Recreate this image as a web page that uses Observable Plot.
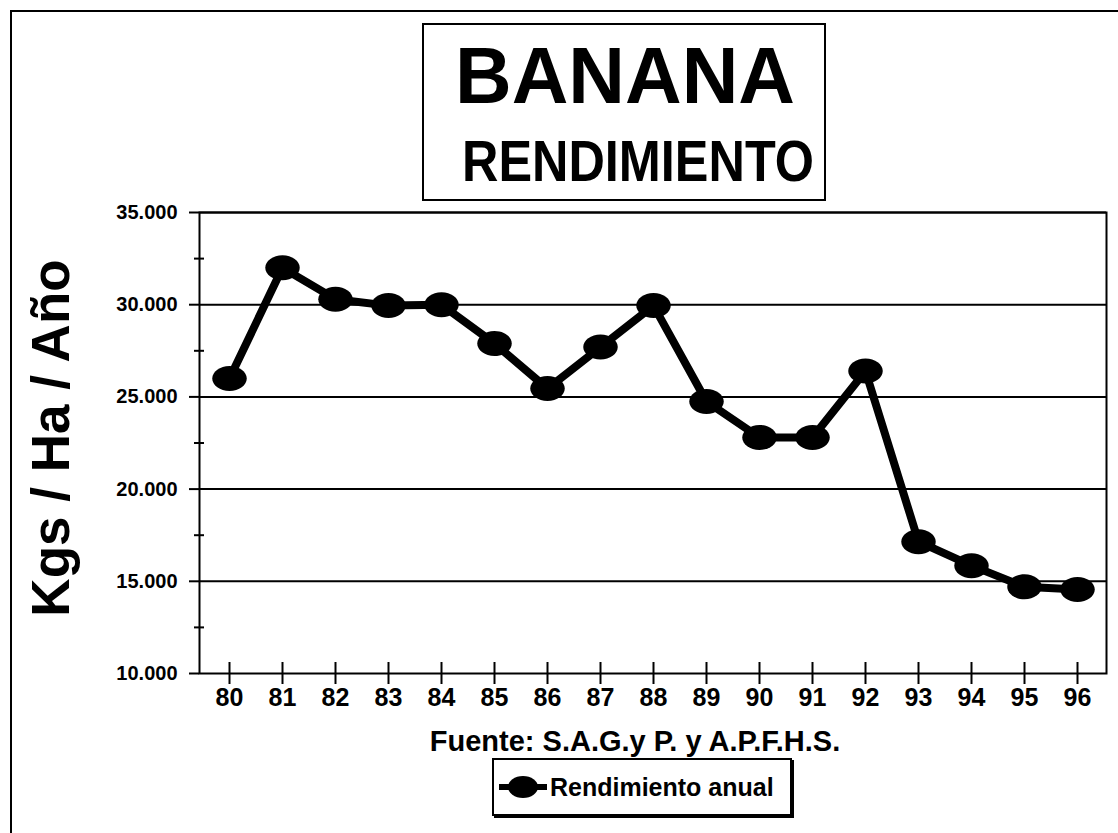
<!DOCTYPE html>
<html>
<head>
<meta charset="utf-8">
<script src="https://cdn.jsdelivr.net/npm/d3@7"></script>
<script src="https://cdn.jsdelivr.net/npm/@observablehq/plot@0.6"></script>
<style>
  html, body { margin: 0; padding: 0; background: #fff; }
  body { width: 1118px; height: 833px; overflow: hidden; position: relative;
         font-family: "Liberation Sans", Arial, sans-serif; font-weight: bold; color: #000; }
  #outer { position: absolute; left: 10px; top: 10px; width: 1300px; height: 1000px;
           border-left: 2px solid #000; border-top: 2px solid #000; }
  #title { position: absolute; left: 422px; top: 23px; width: 400px; height: 174px;
           border: 2px solid #000; background: #fff; }
  #chart { position: absolute; left: 0; top: 0; }
  #legend { position: absolute; left: 492px; top: 758px; width: 296px; height: 54px;
            border: 2px solid #000; box-shadow: 2px 2px 0 #000; background: #fff;
            display: flex; align-items: center; white-space: nowrap; overflow: visible; }
  #legend span { font-size: 25px; font-weight: bold; margin-left: 2px; white-space: nowrap; }
</style>
</head>
<body>
<div id="outer"></div>
<div id="chart"></div>
<div id="title">
  <svg width="400" height="174" style="position:absolute;left:0;top:0">
    <text x="201" y="78" text-anchor="middle" font-family="Liberation Sans, Arial, sans-serif"
          font-weight="bold" font-size="80" textLength="340" lengthAdjust="spacingAndGlyphs">BANANA</text>
    <text x="0" y="0" transform="translate(214,156) scale(1,1.12)" text-anchor="middle"
          font-family="Liberation Sans, Arial, sans-serif"
          font-weight="bold" font-size="52" textLength="352" lengthAdjust="spacingAndGlyphs">RENDIMIENTO</text>
  </svg>
</div>
<div id="legend">
  <svg width="50" height="30" style="margin-left:4px;flex:none">
    <line x1="1" y1="15" x2="49" y2="15" stroke="#000" stroke-width="6"/>
    <ellipse cx="25" cy="15" rx="15" ry="11" fill="#000"/>
  </svg>
  <span>Rendimiento anual</span>
</div>
<script>
// ---- data ----
const years = ["80","81","82","83","84","85","86","87","88","89","90","91","92","93","94","95","96"];
const rendimiento = [26000, 32000, 30300, 29950, 30000, 27900, 25450, 27700, 29950, 24750, 22800, 22800, 26400, 17150, 15850, 14700, 14550];
const yTicks = [10000, 15000, 20000, 25000, 30000, 35000];
const yMinorTicks = [12500, 17500, 22500, 27500, 32500];
const yLabel = "Kgs / Ha / Año";
const source = "Fuente: S.A.G.y P. y A.P.F.H.S.";

const data = years.map((y, i) => ({year: y, value: rendimiento[i]}));
const fmt = d => d3.format(",.0f")(d).replace(/,/g, ".");

// ellipse symbol for the markers
const ellipse = {
  draw(context, size) {
    const ry = Math.sqrt(size / Math.PI), rx = ry * 1.38, k = 0.5523;
    context.moveTo(rx, 0);
    context.bezierCurveTo(rx, k * ry, k * rx, ry, 0, ry);
    context.bezierCurveTo(-k * rx, ry, -rx, k * ry, -rx, 0);
    context.bezierCurveTo(-rx, -k * ry, -k * rx, -ry, 0, -ry);
    context.bezierCurveTo(k * rx, -ry, rx, -k * ry, rx, 0);
    context.closePath();
  }
};

const font = "Liberation Sans, Arial, sans-serif";

const chart = Plot.plot({
  width: 1118,
  height: 760,
  marginLeft: 199,
  marginRight: 12,
  marginTop: 212,
  marginBottom: 87,
  style: {fontFamily: font, fontWeight: "bold", background: "transparent", color: "#000", overflow: "visible"},
  x: {type: "point", domain: years, padding: 0.5},
  y: {domain: [10000, 35000]},
  marks: [
    Plot.ruleY(yTicks.slice(1), {stroke: "#000", strokeWidth: 2}),
    Plot.frame({stroke: "#000", strokeWidth: 2}),
    Plot.axisY({ticks: yTicks, tickSize: 10, tickPadding: 12, tickFormat: fmt, fontSize: 20, strokeWidth: 2, label: null}),
    Plot.axisY({ticks: yMinorTicks, tickSize: 10, dx: 5, tickFormat: () => "", strokeWidth: 2, label: null}),
    Plot.axisX({tickSize: 22, dy: -11, tickFormat: () => "", strokeWidth: 2, label: null}),
    Plot.axisX({tickSize: 0, tickPadding: 15, fontSize: 25, label: null}),
    Plot.text([yLabel], {frameAnchor: "left", rotate: -90, dx: -147, dy: -5, fontSize: 53, fontWeight: "bold", textAnchor: "middle", lineAnchor: "middle"}),
    Plot.text([source], {frameAnchor: "bottom", dx: -18, dy: 68, fontSize: 29, fontWeight: "bold", textAnchor: "middle", lineAnchor: "middle"}),
    Plot.line(data, {x: "year", y: "value", stroke: "#000", strokeWidth: 8}),
    Plot.dot(data, {x: "year", y: "value", fill: "#000", r: 12.5, symbol: ellipse})
  ]
});
document.getElementById("chart").appendChild(chart);
</script>
</body>
</html>
